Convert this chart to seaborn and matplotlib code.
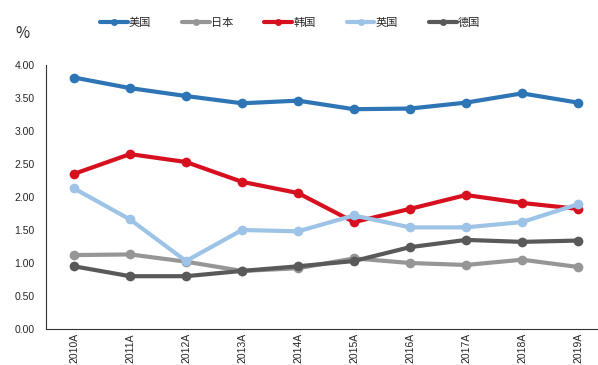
import numpy as np
import pandas as pd
import seaborn as sns
import matplotlib.pyplot as plt

# DATA
years = ["2010A", "2011A", "2012A", "2013A", "2014A",
         "2015A", "2016A", "2017A", "2018A", "2019A"]
countries = ["美国", "日本", "韩国", "英国", "德国"]

us = [3.81, 3.65, 3.53, 3.42, 3.46, 3.33, 3.34, 3.43, 3.57, 3.43]
japan = [1.12, 1.13, 1.02, 0.88, 0.92, 1.07, 1.00, 0.97, 1.05, 0.94]
korea = [2.35, 2.65, 2.53, 2.23, 2.06, 1.62, 1.82, 2.03, 1.91, 1.82]
uk = [2.13, 1.66, 1.03, 1.50, 1.48, 1.72, 1.54, 1.54, 1.62, 1.89]
germany = [0.95, 0.80, 0.80, 0.88, 0.95, 1.03, 1.24, 1.35, 1.32, 1.34]

colors = ["#2E75B6", "#969696", "#D7101F", "#9DC3E6", "#595959"]

df = pd.DataFrame({
    "year": years * 5,
    "country": np.repeat(countries, len(years)),
    "value": us + japan + korea + uk + germany,
})

sns.set_style("white")
plt.rcParams["font.family"] = ["Noto Sans CJK SC", "DejaVu Sans"]

fig = plt.figure(figsize=(5.98, 3.65), dpi=100)
ax = fig.add_axes([46 / 598, 36 / 365, 560 / 598, 264 / 365])

sns.lineplot(
    data=df, x="year", y="value", hue="country",
    hue_order=countries, palette=colors,
    marker="o", markersize=7, markeredgewidth=0,
    linewidth=3, sort=False, ax=ax,
)

ax.set_xlim(-0.5, 9.5)
ax.set_ylim(0, 4)
yt = np.arange(0, 4.01, 0.5)
ax.set_yticks(yt)
ax.set_yticklabels([f"{v:.2f}" for v in yt], fontsize=7.5,
                   family="Liberation Sans")
ax.set_xticks(range(len(years)))
ax.set_xticklabels(years, rotation=90, fontsize=7.5, family="Liberation Sans")
ax.tick_params(axis="x", length=0, pad=3)
ax.set_xticks(np.arange(0.5, 9.5, 1), minor=True)
ax.tick_params(axis="x", which="minor", direction="in", length=3, width=0.8)
ax.tick_params(axis="y", direction="in", length=4, width=0.8, pad=8)
ax.set_xlabel("")
ax.set_ylabel("")

for s in ["top", "right"]:
    ax.spines[s].set_visible(False)
for s in ["left", "bottom"]:
    ax.spines[s].set_color("#333333")
    ax.spines[s].set_linewidth(0.8)

fig.text(22 / 598, 1 - 33 / 365, "%", fontsize=11, ha="center", va="center")

handles, labels = ax.get_legend_handles_labels()
for h in handles:
    h.set_markersize(5)
ax.legend(
    handles, labels, ncol=5, frameon=False, fontsize=8,
    loc="center", bbox_to_anchor=(290 / 598, 1 - 23 / 365),
    bbox_transform=fig.transFigure, handlelength=2.5,
    handletextpad=0.1, columnspacing=2.8,
)

fig.savefig("out.png", dpi=100)
